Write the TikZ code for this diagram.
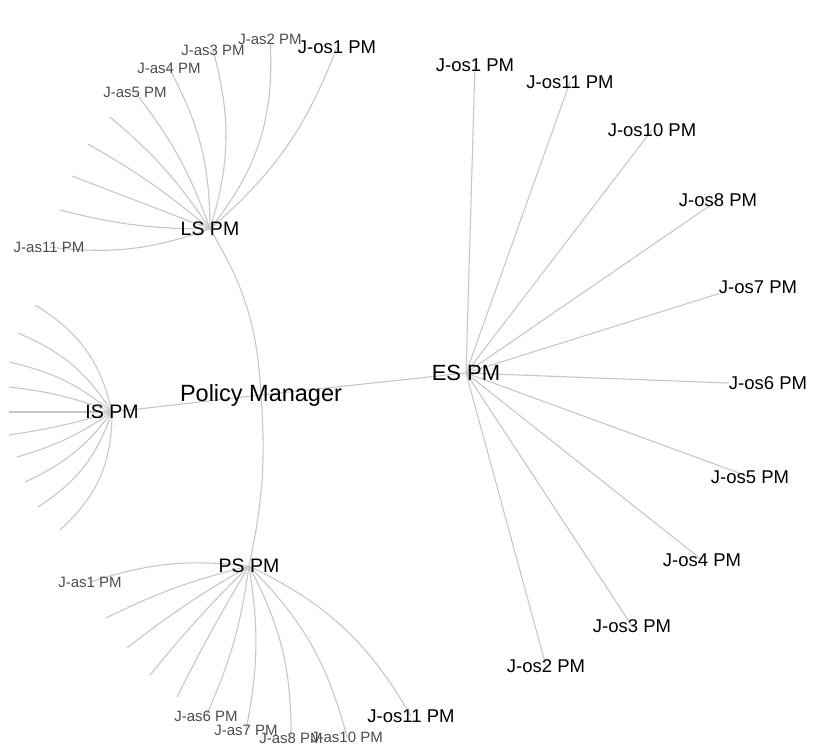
\documentclass[tikz,border=0pt]{standalone}
\usepackage{fontspec}
\setmainfont{Liberation Sans}
\usetikzlibrary{backgrounds}

\begin{document}
\begin{tikzpicture}[x=1pt,y=-1pt,inner sep=0pt,
  hub/.style={font=\fontsize{19.5}{20}\selectfont},
  os/.style={font=\fontsize{18.5}{20}\selectfont},
  as/.style={text=black!70,font=\fontsize{15}{16}\selectfont},
  link/.style={draw=black!22,line width=1.1pt}]
\useasboundingbox (0,0) rectangle (818,749);

% centre and the four managers
\node[font=\fontsize{23.5}{24}\selectfont] (pm) at (261,395) {Policy Manager};
\node[hub] (ls) at (210,229) {LS PM};
\node[hub] (is) at (112,412) {IS PM};
\node[hub] (ps) at (249,566) {PS PM};
\node[hub,font=\fontsize{22}{22}\selectfont] (es) at (466,373) {ES PM};

% LS PM leaves
\node[os] (lo1) at (337,47) {J-os1 PM};
\node[as] (la2) at (270,39) {J-as2 PM};
\node[as] (la3) at (213,50) {J-as3 PM};
\node[as] (la4) at (169,68) {J-as4 PM};
\node[as] (la5) at (135,92) {J-as5 PM};
\coordinate (l6) at (110,117);
\coordinate (l7) at (88,144);
\coordinate (l8) at (72,176);
\coordinate (l9) at (60,210);
\node[as] (la11) at (49,247) {J-as11 PM};

% IS PM leaves (no labels)
\foreach \n/\x/\y in {i1/35/305,i2/18/333,i3/9/362,i4/9/387,i5/9/412,
                      i6/9/435,i7/17/457,i8/25/482,i9/38/507,i10/60/530}
  \coordinate (\n) at (\x,\y);

% PS PM leaves
\node[as] (pa1) at (90,582) {J-as1 PM};
\coordinate (p2) at (106,618);
\coordinate (p3) at (127,648);
\coordinate (p4) at (150,675);
\coordinate (p5) at (177,697);
\node[as] (pa6) at (206,716) {J-as6 PM};
\node[as] (pa7) at (246,730) {J-as7 PM};
\node[as] (pa8) at (291,738) {J-as8 PM};
\node[as] (pa10) at (347,737) {J-as10 PM};
\node[os] (po11) at (411,716) {J-os11 PM};

% ES PM leaves
\node[os] (e1) at (475,65) {J-os1 PM};
\node[os] (e11) at (570,82) {J-os11 PM};
\node[os] (e10) at (652,130) {J-os10 PM};
\node[os] (e8) at (718,200) {J-os8 PM};
\node[os] (e7) at (758,287) {J-os7 PM};
\node[os] (e6) at (768,383) {J-os6 PM};
\node[os] (e5) at (750,477) {J-os5 PM};
\node[os] (e4) at (702,560) {J-os4 PM};
\node[os] (e3) at (632,626) {J-os3 PM};
\node[os] (e2) at (546,666) {J-os2 PM};

% links behind the text
\begin{scope}[on background layer]
\draw[link] (is.center) -- (pm.center) -- (es.center);
\draw[link] (pm.center) to[bend right=14] (ls.center);
\draw[link] (pm.center) to[bend left=8] (ps.center);
\foreach \n/\b in {lo1/14,la2/21,la3/16,la4/14,la5/9,l6/8,l7/5,l8/0,l9/-7,la11/-13}
  \draw[link] (ls.center) to[bend right=\b] (\n.center);
\foreach \n/\b in {i1/23,i2/17,i3/13,i4/7,i5/0,i6/-4,i7/-9,i8/-14,i9/-19,i10/-24}
  \draw[link] (is.center) to[bend right=\b] (\n.center);
\foreach \n/\b in {pa1/12,p2/6,p3/4,p4/3,p5/2,pa6/-8,pa7/-10,pa8/-14,pa10/-15,po11/-17}
  \draw[link] (ps.center) to[bend right=\b] (\n.center);
\foreach \n/\a in {e1/center,e11/center,e10/center,e8/center,e7/south west,
                   e6/west,e5/center,e4/center,e3/center,e2/center}
  \draw[link] (es.center) -- (\n.\a);
\end{scope}
\end{tikzpicture}
\end{document}
